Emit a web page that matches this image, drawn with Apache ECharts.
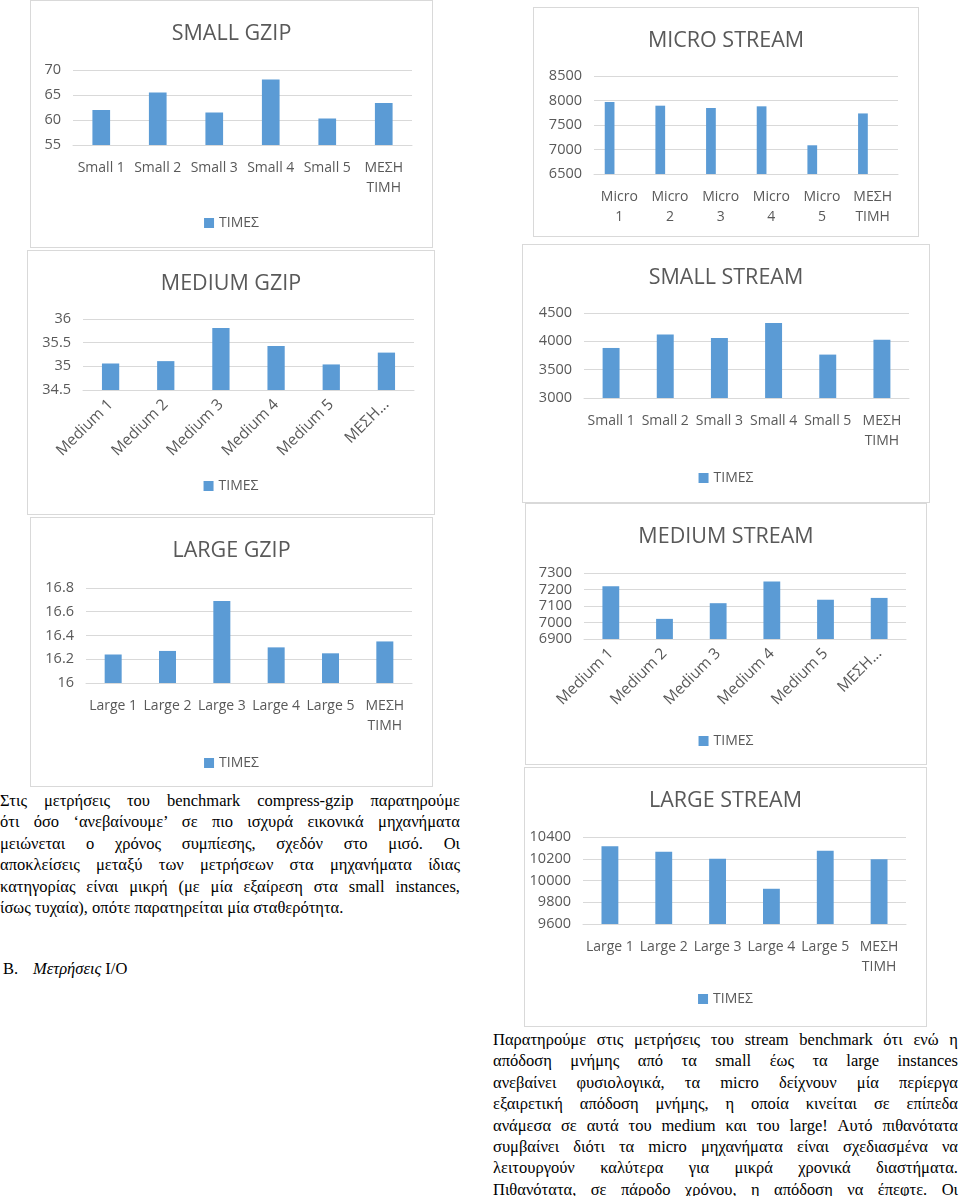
<!DOCTYPE html>
<html>
<head>
<meta charset="utf-8">
<script src="https://cdn.jsdelivr.net/npm/echarts@6/dist/echarts.min.js"></script>
<style>
  body { margin:0; background:#fff; width:960px; height:1196px; position:relative; overflow:hidden; }
  .box { position:absolute; background:#fff; border:1px solid #d9d9d9; box-sizing:border-box; }
  .txt { position:absolute; font-family:"Liberation Serif","DejaVu Serif",serif; font-size:16.5px; line-height:21.4px; color:#000; }
  .txt div { text-align:justify; text-align-last:justify; white-space:nowrap; }
  .txt div.end { text-align-last:left; }
</style>
</head>
<body>
<div id="c1" class="box" style="left:30px;top:0px;width:403px;height:248px"></div>
<div id="c2" class="box" style="left:533px;top:7px;width:386px;height:230px"></div>
<div id="c3" class="box" style="left:27px;top:250px;width:408px;height:265px"></div>
<div id="c4" class="box" style="left:522px;top:244px;width:408px;height:259px"></div>
<div id="c5" class="box" style="left:30px;top:517px;width:403px;height:270px"></div>
<div id="c6" class="box" style="left:525px;top:503px;width:402px;height:262px"></div>
<div id="c7" class="box" style="left:524px;top:767px;width:403px;height:260px"></div>

<div class="txt" style="left:0px;top:790px;width:460px">
  <div>Στις μετρήσεις του benchmark compress-gzip παρατηρούμε</div>
  <div>ότι όσο ‘ανεβαίνουμε’ σε πιο ισχυρά εικονικά μηχανήματα</div>
  <div>μειώνεται ο χρόνος συμπίεσης, σχεδόν στο μισό. Οι</div>
  <div>αποκλείσεις μεταξύ των μετρήσεων στα μηχανήματα ίδιας</div>
  <div>κατηγορίας είναι μικρή (με μία εξαίρεση στα small instances,</div>
  <div class="end">ίσως τυχαία), οπότε παρατηρείται μία σταθερότητα.</div>
</div>
<div class="txt" style="left:3px;top:958px">B.<span style="position:absolute;left:30px;font-style:italic;white-space:nowrap">Μετρήσεις <span style="font-style:normal">I/O</span></span></div>

<div class="txt" style="left:493px;top:1029px;width:465px">
  <div>Παρατηρούμε στις μετρήσεις του stream benchmark ότι ενώ η</div>
  <div>απόδοση μνήμης από τα small έως τα large instances</div>
  <div>ανεβαίνει φυσιολογικά, τα micro δείχνουν μία περίεργα</div>
  <div>εξαιρετική απόδοση μνήμης, η οποία κινείται σε επίπεδα</div>
  <div>ανάμεσα σε αυτά του medium και του large! Αυτό πιθανότατα</div>
  <div>συμβαίνει διότι τα micro μηχανήματα είναι σχεδιασμένα να</div>
  <div>λειτουργούν καλύτερα για μικρά χρονικά διαστήματα.</div>
  <div>Πιθανότατα, σε πάροδο χρόνου, η απόδοση να έπεφτε. Οι</div>
</div>

<script>
// κατηγορίες
var smallCats = ['Small 1', 'Small 2', 'Small 3', 'Small 4', 'Small 5', 'ΜΕΣΗ\nΤΙΜΗ'];
var microCats = ['Micro\n1', 'Micro\n2', 'Micro\n3', 'Micro\n4', 'Micro\n5', 'ΜΕΣΗ\nΤΙΜΗ'];
var mediumCats = ['Medium 1', 'Medium 2', 'Medium 3', 'Medium 4', 'Medium 5', 'ΜΕΣΗ ΤΙΜΗ'];
var largeCats = ['Large 1', 'Large 2', 'Large 3', 'Large 4', 'Large 5', 'ΜΕΣΗ\nΤΙΜΗ'];

// τιμές (ΤΙΜΕΣ)
var smallGzip = [62.0, 65.5, 61.5, 68.1, 60.3, 63.4];
var microStream = [7970, 7894, 7847, 7881, 7086, 7736];
var mediumGzip = [35.06, 35.11, 35.81, 35.43, 35.04, 35.29];
var smallStream = [3883, 4119, 4059, 4324, 3766, 4030];
var largeGzip = [16.24, 16.27, 16.69, 16.30, 16.25, 16.35];
var mediumStream = [7219, 7022, 7117, 7248, 7138, 7149];
var largeStream = [10314, 10265, 10201, 9924, 10274, 10196];

// άξονας y: [min, max, βήμα]
var smallGzipAxis = [55, 70, 5];
var microStreamAxis = [6500, 8500, 500];
var mediumGzipAxis = [34.5, 36, 0.5];
var smallStreamAxis = [3000, 4500, 500];
var largeGzipAxis = [16, 16.8, 0.2];
var mediumStreamAxis = [6900, 7300, 100];
var largeStreamAxis = [9600, 10400, 200];

var textColor = '#595959';
var gridColor = '#d9d9d9';
var barColor = '#5b9bd5';
var uiFont = '"Open Sans", "Noto Sans", sans-serif';

function makeChart(id, title, cats, vals, axis, grid, opt) {
    opt = opt || {};
    var chart = echarts.init(document.getElementById(id));
    var series = [{
        name: 'ΤΙΜΕΣ',
        type: 'bar',
        barWidth: opt.barWidth || '31.3%',
        barGap: '0%',
        itemStyle: { color: barColor },
        data: vals
    }];
    // κενές σειρές (όπως στο excel) για το micro
    for (var i = 0; i < (opt.emptySeries || 0); i++) {
        series.push({ name: 'empty' + i, type: 'bar', barWidth: opt.barWidth, barGap: '0%', data: [] });
    }
    var option = {
        animation: false,
        title: {
            text: title,
            left: 'center',
            top: 17,
            textStyle: { color: textColor, fontFamily: uiFont, fontSize: 21.5, fontWeight: 'normal' }
        },
        legend: {
            show: opt.legend !== false,
            data: ['ΤΙΜΕΣ'],
            bottom: opt.legendBottom || 12,
            left: 'center',
            icon: 'rect',
            itemWidth: 10,
            itemHeight: 10,
            selectedMode: false,
            textStyle: { color: textColor, fontFamily: uiFont, fontSize: 14 }
        },
        grid: grid,
        xAxis: {
            type: 'category',
            data: cats,
            axisLine: { lineStyle: { color: gridColor } },
            axisTick: { show: false },
            axisLabel: opt.rotate ? {
                rotate: 45,
                interval: 0,
                margin: 12,
                color: textColor,
                fontFamily: uiFont,
                fontSize: 15.5,
                // όπως στο excel: το μακρύ όνομα κόβεται
                formatter: function (v) { return v.length > 8 ? v.split(' ')[0] + '...' : v; }
            } : {
                interval: 0,
                margin: 13,
                color: textColor,
                fontFamily: uiFont,
                fontSize: 14,
                lineHeight: 20
            }
        },
        yAxis: {
            type: 'value',
            min: axis[0],
            max: axis[1],
            interval: axis[2],
            axisLine: { show: false },
            axisTick: { show: false },
            splitLine: { lineStyle: { color: gridColor } },
            axisLabel: {
                color: textColor, fontFamily: uiFont, fontSize: 14.5, margin: 12,
                formatter: function (v) { return String(v); }
            }
        },
        series: series
    };
    chart.setOption(option);
    return chart;
}

makeChart('c1', 'SMALL GZIP', smallCats, smallGzip, smallGzipAxis,
    { left: 42, right: 20, top: 69, height: 75 });
makeChart('c2', 'MICRO STREAM', microCats, microStream, microStreamAxis,
    { left: 60, right: 20, top: 68, height: 98 },
    { legend: false, emptySeries: 2, barWidth: '19.2%' });
makeChart('c3', 'MEDIUM GZIP', mediumCats, mediumGzip, mediumGzipAxis,
    { left: 55, right: 20, top: 68, height: 71 },
    { rotate: true, legendBottom: 16 });
makeChart('c4', 'SMALL STREAM', smallCats, smallStream, smallStreamAxis,
    { left: 61, right: 20, top: 68, height: 85 });
makeChart('c5', 'LARGE GZIP', largeCats, largeGzip, largeGzipAxis,
    { left: 55, right: 20, top: 70, height: 95 },
    { legendBottom: 11 });
makeChart('c6', 'MEDIUM STREAM', mediumCats, mediumStream, mediumStreamAxis,
    { left: 58, right: 20, top: 69, height: 66 },
    { rotate: true, legendBottom: 11 });
makeChart('c7', 'LARGE STREAM', largeCats, largeStream, largeStreamAxis,
    { left: 58, right: 20, top: 69, height: 87 },
    { legendBottom: 15 });
</script>
</body>
</html>
